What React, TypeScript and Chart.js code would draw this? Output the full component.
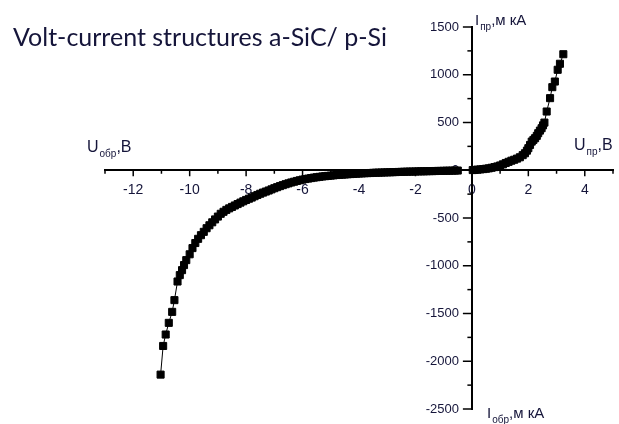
import React, { useEffect, useRef } from "react";
import { Chart, registerables } from "chart.js";

Chart.register(...registerables);

const chartTitle = "Volt-current structures a-SiC/ p-Si";

// Reverse branch (U обр, I обр)
const negVoltage = [
  -11.03, -10.94, -10.85, -10.74, -10.62, -10.54, -10.43, -10.35, -10.27, -10.2,
  -10.12, -10.0, -9.9, -9.8, -9.7, -9.6, -9.5, -9.4, -9.3, -9.2,
  -9.1, -9.0, -8.9, -8.8, -8.7, -8.6, -8.5, -8.4, -8.3, -8.2,
  -8.1, -8.0, -7.9, -7.8, -7.7, -7.6, -7.5, -7.4, -7.3, -7.2,
  -7.1, -7.0, -6.9, -6.8, -6.7, -6.6, -6.5, -6.4, -6.3, -6.2,
  -6.1, -6.0, -5.9, -5.8, -5.7, -5.6, -5.5, -5.4, -5.3, -5.2,
  -5.1, -5.0, -4.9, -4.8, -4.7, -4.6, -4.5, -4.4, -4.3, -4.2,
  -4.1, -4.0, -3.9, -3.8, -3.7, -3.6, -3.5, -3.4, -3.3, -3.2,
  -3.1, -3.0, -2.9, -2.8, -2.7, -2.6, -2.5, -2.4, -2.3, -2.2,
  -2.1, -2.0, -1.9, -1.8, -1.7, -1.6, -1.5, -1.4, -1.3, -1.2,
  -1.1, -1.0, -0.9, -0.8, -0.7, -0.6, -0.5,
];
const negCurrent = [
  -2140, -1840, -1720, -1598, -1483, -1360, -1165, -1098, -1046, -993,
  -941, -880, -815, -762, -718, -680, -645, -607, -576, -545,
  -515, -485, -456, -435, -415, -399, -384, -369, -354, -339,
  -325, -311, -298, -286, -272, -259, -246, -234, -223, -212,
  -200, -188, -177, -166, -156, -146, -137, -128, -120, -112,
  -105, -98, -92, -87, -82, -77, -73, -69, -65, -62,
  -59, -56, -53, -50, -48, -46, -44, -42, -40, -38,
  -36, -34, -33, -31, -30, -29, -27, -26, -25, -24,
  -23, -22, -21, -20, -19, -18, -17, -16, -15, -14,
  -14, -13, -12, -11, -11, -10, -9, -9, -8, -7,
  -7, -6, -5, -5, -4, -3, -3,
];

// Forward branch (U пр, I пр)
const posVoltage = [
  0.03, 0.1, 0.2, 0.3, 0.4, 0.5, 0.6, 0.7, 0.8, 0.9,
  1.0, 1.1, 1.2, 1.3, 1.4, 1.5, 1.6, 1.7, 1.8, 1.88,
  1.95, 2.0, 2.06, 2.12, 2.18, 2.24, 2.3, 2.35, 2.41, 2.47,
  2.52, 2.57, 2.65, 2.77, 2.85, 2.94, 3.04, 3.12, 3.24,
];
const posCurrent = [
  2, 4, 6, 9, 12, 16, 20, 26, 33, 40,
  50, 62, 76, 88, 100, 110, 122, 136, 158, 178,
  205, 231, 265, 300, 318, 336, 360, 388, 415, 440,
  470, 499, 615, 755, 870, 929, 1052, 1115, 1215,
];

const xLabeledTicks = [-12, -10, -8, -6, -4, -2, 0, 2, 4];
const yLabeledTicks = [-2500, -2000, -1500, -1000, -500, 0, 500, 1000, 1500];

const axisLabelTop = { main: "I", sub: "пр", rest: ",м кА" };
const axisLabelBottom = { main: "I", sub: "обр", rest: ",м кА" };
const axisLabelRight = { main: "U", sub: "пр", rest: ",B" };
const axisLabelLeft = { main: "U", sub: "обр", rest: ",B" };

const INK = "#15153a";
const FONT = '"Liberation Sans", Arial, sans-serif';

function drawSubLabel(
  ctx: CanvasRenderingContext2D,
  x: number,
  y: number,
  lab: { main: string; sub: string; rest: string },
  size: number,
  subSize: number
) {
  ctx.fillStyle = INK;
  ctx.textBaseline = "alphabetic";
  ctx.textAlign = "left";
  ctx.font = `${size}px ${FONT}`;
  ctx.fillText(lab.main, x, y);
  let cx = x + ctx.measureText(lab.main).width + 1;
  ctx.font = `${subSize}px ${FONT}`;
  ctx.fillText(lab.sub, cx, y + 5);
  cx += ctx.measureText(lab.sub).width;
  ctx.font = `${size}px ${FONT}`;
  ctx.fillText(lab.rest, cx, y);
}

const tickMarksPlugin = {
  id: "tickMarks",
  beforeDatasetsDraw(chart: any) {
    const { ctx } = chart;
    const xs = chart.scales.x;
    const ys = chart.scales.y;
    const axisY = ys.getPixelForValue(0);
    const axisX = xs.getPixelForValue(0);
    ctx.save();
    ctx.strokeStyle = "#000";
    ctx.lineWidth = 1.5;
    xs.ticks.forEach((t: any) => {
      const px = xs.getPixelForValue(t.value);
      const major = xLabeledTicks.includes(t.value);
      ctx.beginPath();
      ctx.moveTo(px, axisY);
      ctx.lineTo(px, axisY + (major ? 6 : 3.5));
      ctx.stroke();
    });
    ctx.fillStyle = INK;
    ctx.font = `13px ${FONT}`;
    ctx.textAlign = "right";
    ctx.textBaseline = "middle";
    ys.ticks.forEach((t: any) => {
      const py = ys.getPixelForValue(t.value);
      const major = yLabeledTicks.includes(t.value);
      ctx.beginPath();
      ctx.moveTo(axisX, py);
      ctx.lineTo(axisX - (major ? 9 : 4.5), py);
      ctx.stroke();
      if (major) ctx.fillText(String(t.value), axisX - 13, py);
    });
    ctx.restore();
  },
};

const textPlugin = {
  id: "textLabels",
  afterDraw(chart: any) {
    const { ctx } = chart;
    ctx.save();
    ctx.fillStyle = INK;
    ctx.font = `25px Lato, "Open Sans", sans-serif`;
    ctx.textAlign = "left";
    ctx.textBaseline = "alphabetic";
    ctx.fillText(chartTitle, 13, 46);
    drawSubLabel(ctx, 475, 25, axisLabelTop, 15, 10);
    drawSubLabel(ctx, 487, 418, axisLabelBottom, 15, 10);
    drawSubLabel(ctx, 574, 150, axisLabelRight, 16, 10);
    drawSubLabel(ctx, 87, 152, axisLabelLeft, 16, 10);
    ctx.restore();
  },
};

export default function App() {
  const ref = useRef<HTMLCanvasElement>(null);

  useEffect(() => {
    if (!ref.current) return;
    const points = [
      ...negVoltage.map((v, i) => ({ x: v, y: negCurrent[i] })),
      ...posVoltage.map((v, i) => ({ x: v, y: posCurrent[i] })),
    ];
    const chart = new Chart(ref.current, {
      type: "scatter",
      data: {
        datasets: [
          {
            data: points,
            showLine: true,
            borderColor: "#000",
            borderWidth: 1,
            backgroundColor: "#000",
            pointStyle: "rect",
            pointRadius: 5,
            pointBorderWidth: 1,
            pointBorderColor: "#000",
            pointBackgroundColor: "#000",
          },
        ],
      },
      plugins: [tickMarksPlugin, textPlugin],
      options: {
        responsive: false,
        animation: false,
        layout: { padding: { left: 105, right: 4, top: 27, bottom: 15 } },
        plugins: {
          legend: { display: false },
          title: { display: false },
          tooltip: { enabled: false },
        },
        scales: {
          x: {
            type: "linear",
            min: -13,
            max: 5,
            position: { y: 0 } as any,
            grid: { display: false, tickLength: 5 },
            border: { display: true, color: "#000", width: 2 },
            ticks: {
              stepSize: 1,
              autoSkip: false,
              maxRotation: 0,
              padding: 6,
              color: INK,
              font: { family: FONT, size: 14 },
              callback: (v: any) => (xLabeledTicks.includes(Number(v)) ? String(v) : ""),
            },
          },
          y: {
            type: "linear",
            min: -2500,
            max: 1500,
            position: { x: 0 } as any,
            grid: { display: false, tickLength: 9 },
            border: { display: true, color: "#000", width: 2 },
            ticks: {
              stepSize: 250,
              autoSkip: false,
              display: false,
            },
          },
        },
      },
    });
    return () => chart.destroy();
  }, []);

  return (
    <div style={{ position: "fixed", left: 0, top: 0, width: 619, height: 424, background: "#fff" }}>
      <canvas ref={ref} width={619} height={424} style={{ width: 619, height: 424 }} />
    </div>
  );
}
